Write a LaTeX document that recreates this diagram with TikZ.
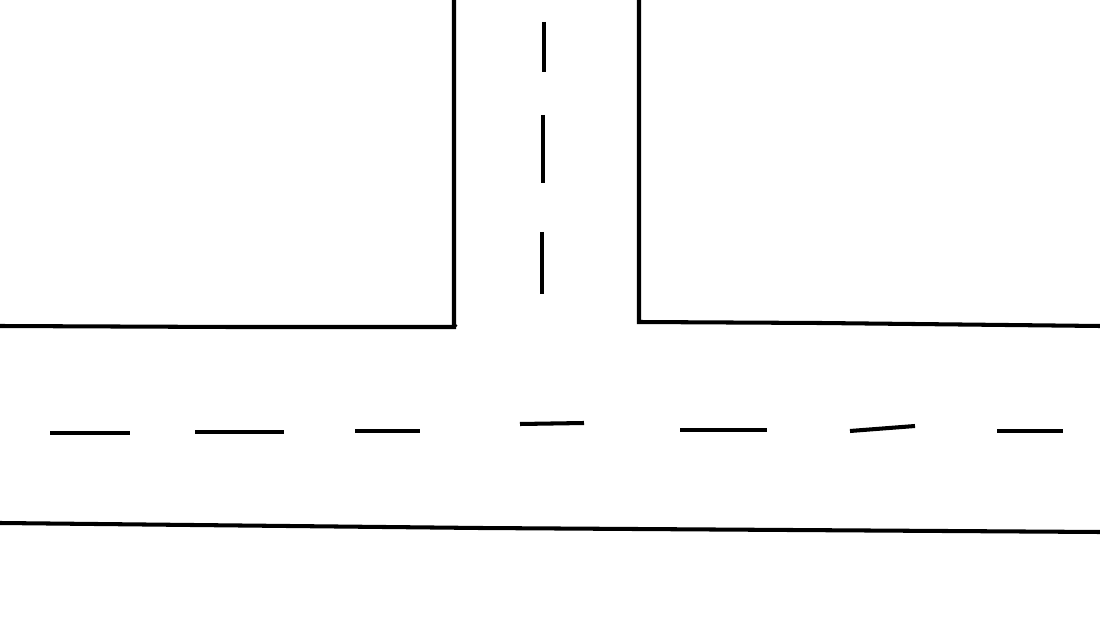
\documentclass[tikz,border=0pt]{standalone}
\usepackage{tikz}
\usetikzlibrary{calc}

\tikzset{
  curb/.style={line width=2.3pt, black},
  lane/.style={line width=2.3pt, black}
}

\begin{document}
\begin{tikzpicture}[x=0.02cm, y=-0.02cm]

 \useasboundingbox (0,0) rectangle (1100,618);

 %curbs
 \draw[curb] (454,0) -- (454,325) -- (456,327);
 \draw[curb] (0,326) -- (230,327) -- (456,327);
 \draw[curb] (639,0) -- (639,322) -- (820,323) -- (1100,326);
 \draw[curb] (0,523) -- (480,528) -- (1100,532);

 %vertical lane marks
 \foreach \xa/\ya/\xb/\yb in {544/22/544/72, 543/115/543/183, 542/232/542/294} {
     \draw[lane] (\xa,\ya) -- (\xb,\yb);
 }

 %horizontal lane marks
 \foreach \xa/\ya/\xb/\yb in {50/433/130/433, 195/432/284/432, 355/431/420/431,
                            520/424/584/423, 680/430/767/430, 850/431/915/426,
                            997/431/1063/431} {
     \draw[lane] (\xa,\ya) -- (\xb,\yb);
 }

\end{tikzpicture}
\end{document}
